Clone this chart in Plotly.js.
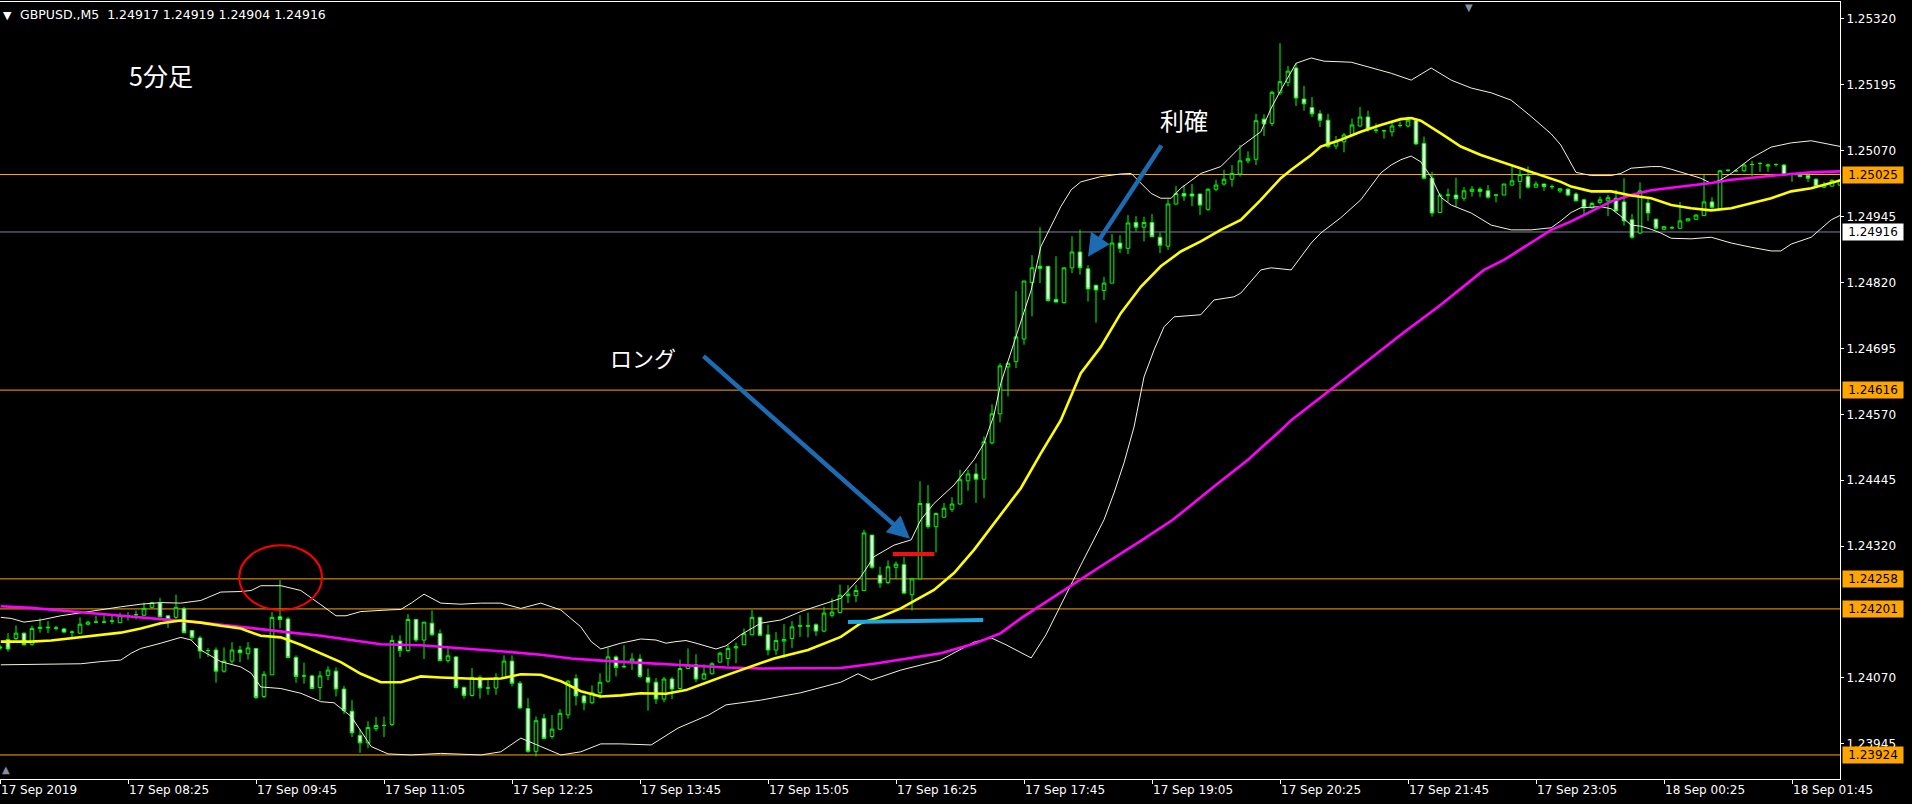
<!DOCTYPE html>
<html>
<head>
<meta charset="utf-8">
<script src="https://cdn.plot.ly/plotly-3.0.1.min.js"></script>
<style>html,body{margin:0;padding:0;background:#000;}#chart{width:1912px;height:804px;}</style>
</head>
<body>
<div id="chart"></div>
<script>
// ---- Candles (GBPUSD M5, bar 0 = 17 Sep 07:05) ----
const candleOpen = [
1.24129,1.24143,1.24145,1.24155,1.24134,1.24164,1.24165,1.24164,1.24163,1.24157,
1.24155,1.24172,1.24176,1.24176,1.24178,1.24175,1.24188,1.24190,1.24189,1.24204,
1.24212,1.24188,1.24185,1.24202,1.24160,1.24146,1.24122,1.24123,1.24083,1.24102,
1.24123,1.24116,1.24126,1.24035,1.24076,1.24186,1.24182,1.24109,1.24074,1.24074,
1.24052,1.24075,1.24083,1.24049,1.24007,1.23961,1.23947,1.23974,1.23980,1.23982,
1.24140,1.24122,1.24181,1.24142,1.24174,1.24154,1.24103,1.24110,1.24052,1.24037,
1.24071,1.24051,1.24051,1.24071,1.24102,1.24060,1.24012,1.23931,1.23993,1.23959,
1.23973,1.24000,1.24069,1.24036,1.24023,1.24042,1.24064,1.24110,1.24091,1.24102,
1.24106,1.24071,1.24062,1.24030,1.24068,1.24050,1.24088,1.24095,1.24068,1.24078,
1.24100,1.24107,1.24127,1.24133,1.24152,1.24185,1.24152,1.24123,1.24140,1.24145,
1.24168,1.24168,1.24171,1.24159,1.24189,1.24194,1.24226,1.24226,1.24236,1.24341,
1.24265,1.24251,1.24280,1.24285,1.24228,1.24258,1.24401,1.24357,1.24375,1.24390,
1.24400,1.24444,1.24457,1.24447,1.24516,1.24571,1.24660,1.24670,1.24713,1.24820,
1.24851,1.24851,1.24788,1.24782,1.24848,1.24878,1.24846,1.24815,1.24805,1.24819,
1.24895,1.24885,1.24934,1.24925,1.24934,1.24906,1.24889,1.24969,1.24989,1.24988,
1.24988,1.24959,1.24997,1.25007,1.25016,1.25026,1.25051,1.25054,1.25130,1.25122,
1.25180,1.25200,1.25227,1.25168,1.25152,1.25140,1.25128,1.25079,1.25087,1.25101,
1.25117,1.25134,1.25109,1.25108,1.25106,1.25118,1.25117,1.25128,1.25084,1.25018,
1.24953,1.24986,1.24986,1.24980,1.24993,1.24997,1.24994,1.24986,1.24986,1.25005,
1.25012,1.25021,1.25001,1.25007,1.25002,1.24994,1.24997,1.24988,1.24977,1.24962,
1.24972,1.24975,1.24980,1.24973,1.24939,1.24914,1.24971,1.24940,1.24921,1.24924,
1.24923,1.24937,1.24940,1.24947,1.24973,1.24960,1.25033,1.25032,1.25032,1.25044,
1.25046,1.25041,1.25044,1.25043,1.25026,1.25026,1.25023,1.25016,1.25001,1.25003,
1.25005];
const candleHigh = [
1.24133,1.24155,1.24170,1.24156,1.24169,1.24183,1.24178,1.24169,1.24165,1.24160,
1.24185,1.24178,1.24188,1.24189,1.24188,1.24194,1.24195,1.24198,1.24213,1.24214,
1.24222,1.24188,1.24228,1.24205,1.24161,1.24150,1.24127,1.24128,1.24128,1.24138,
1.24131,1.24138,1.24126,1.24083,1.24195,1.24256,1.24186,1.24113,1.24099,1.24076,
1.24083,1.24092,1.24090,1.24055,1.24028,1.23973,1.23988,1.23996,1.23997,1.24151,
1.24151,1.24191,1.24181,1.24176,1.24198,1.24162,1.24128,1.24112,1.24054,1.24089,
1.24075,1.24066,1.24079,1.24113,1.24113,1.24064,1.24032,1.23997,1.24002,1.24000,
1.24011,1.24066,1.24077,1.24038,1.24056,1.24079,1.24128,1.24113,1.24132,1.24117,
1.24115,1.24088,1.24070,1.24072,1.24072,1.24105,1.24126,1.24115,1.24096,1.24100,
1.24120,1.24133,1.24137,1.24164,1.24199,1.24186,1.24171,1.24157,1.24172,1.24178,
1.24189,1.24194,1.24174,1.24205,1.24221,1.24247,1.24246,1.24247,1.24351,1.24341,
1.24281,1.24293,1.24291,1.24300,1.24260,1.24443,1.24436,1.24384,1.24402,1.24413,
1.24465,1.24465,1.24477,1.24528,1.24589,1.24667,1.24667,1.24804,1.24823,1.24872,
1.24925,1.24851,1.24870,1.24848,1.24908,1.24920,1.24853,1.24815,1.24831,1.24912,
1.24910,1.24948,1.24946,1.24945,1.24950,1.24915,1.24978,1.25003,1.25005,1.25007,
1.24988,1.24999,1.25015,1.25034,1.25043,1.25081,1.25069,1.25140,1.25139,1.25184,
1.25274,1.25231,1.25236,1.25193,1.25172,1.25147,1.25140,1.25098,1.25104,1.25131,
1.25153,1.25146,1.25122,1.25110,1.25127,1.25125,1.25135,1.25132,1.25097,1.25030,
1.24989,1.24998,1.25019,1.25001,1.25003,1.25001,1.25005,1.24986,1.25007,1.25040,
1.25034,1.25040,1.25012,1.25007,1.25006,1.24999,1.24999,1.24991,1.24979,1.24973,
1.24983,1.24986,1.24996,1.25018,1.24950,1.25010,1.24981,1.24942,1.24926,1.24927,
1.24973,1.24941,1.24950,1.25024,1.24982,1.25034,1.25034,1.25032,1.25046,1.25051,
1.25048,1.25046,1.25046,1.25045,1.25028,1.25026,1.25024,1.25018,1.25011,1.25016,
1.25016];
const candleLow = [
1.24123,1.24120,1.24142,1.24132,1.24131,1.24156,1.24155,1.24160,1.24156,1.24146,
1.24154,1.24170,1.24174,1.24174,1.24172,1.24174,1.24179,1.24181,1.24188,1.24203,
1.24185,1.24165,1.24182,1.24155,1.24142,1.24107,1.24110,1.24061,1.24080,1.24097,
1.24100,1.24105,1.24030,1.24032,1.24076,1.24164,1.24108,1.24061,1.24059,1.24050,
1.24028,1.24066,1.24035,1.24002,1.23958,1.23928,1.23937,1.23969,1.23958,1.23979,
1.24110,1.24119,1.24138,1.24106,1.24150,1.24102,1.24099,1.24050,1.24031,1.24035,
1.24031,1.24038,1.24038,1.24070,1.24054,1.24012,1.23928,1.23921,1.23954,1.23955,
1.23971,1.23993,1.24018,1.24009,1.24021,1.24031,1.24061,1.24073,1.24089,1.24085,
1.24070,1.24008,1.24021,1.24024,1.24030,1.24048,1.24088,1.24062,1.24067,1.24077,
1.24099,1.24092,1.24098,1.24132,1.24151,1.24150,1.24113,1.24114,1.24108,1.24127,
1.24148,1.24147,1.24150,1.24157,1.24185,1.24193,1.24212,1.24214,1.24235,1.24277,
1.24241,1.24248,1.24258,1.24229,1.24198,1.24257,1.24353,1.24308,1.24374,1.24385,
1.24399,1.24425,1.24402,1.24411,1.24513,1.24555,1.24604,1.24658,1.24702,1.24756,
1.24819,1.24784,1.24783,1.24780,1.24838,1.24835,1.24784,1.24744,1.24787,1.24819,
1.24876,1.24874,1.24917,1.24898,1.24907,1.24876,1.24882,1.24968,1.24975,1.24965,
1.24948,1.24956,1.24993,1.25004,1.25002,1.25021,1.25046,1.25043,1.25098,1.25117,
1.25176,1.25192,1.25155,1.25146,1.25134,1.25115,1.25075,1.25073,1.25067,1.25100,
1.25116,1.25106,1.25104,1.25093,1.25097,1.25114,1.25114,1.25081,1.25016,1.24945,
1.24952,1.24973,1.24964,1.24975,1.24983,1.24982,1.24979,1.24972,1.24986,1.25004,
1.24979,1.24998,1.25001,1.24994,1.24997,1.24990,1.24984,1.24974,1.24950,1.24960,
1.24968,1.24946,1.24955,1.24928,1.24903,1.24912,1.24937,1.24921,1.24921,1.24922,
1.24923,1.24937,1.24940,1.24947,1.24960,1.24959,1.25030,1.25030,1.25030,1.25022,
1.25030,1.25030,1.25040,1.25022,1.25011,1.25021,1.25011,1.25001,1.24999,1.25002,
1.25003];
const candleClose = [
1.24127,1.24125,1.24155,1.24133,1.24164,1.24166,1.24166,1.24165,1.24157,1.24157,
1.24172,1.24176,1.24176,1.24176,1.24178,1.24188,1.24188,1.24190,1.24202,1.24213,
1.24186,1.24181,1.24204,1.24156,1.24147,1.24121,1.24122,1.24083,1.24102,1.24123,
1.24118,1.24127,1.24033,1.24077,1.24185,1.24181,1.24109,1.24073,1.24074,1.24050,
1.24074,1.24085,1.24049,1.24008,1.23966,1.23947,1.23976,1.23980,1.23980,1.24141,
1.24122,1.24181,1.24142,1.24176,1.24152,1.24103,1.24112,1.24052,1.24037,1.24071,
1.24051,1.24051,1.24071,1.24102,1.24060,1.24013,1.23931,1.23989,1.23955,1.23973,
1.24003,1.24064,1.24036,1.24023,1.24042,1.24062,1.24110,1.24090,1.24092,1.24106,
1.24073,1.24062,1.24030,1.24068,1.24049,1.24088,1.24095,1.24068,1.24078,1.24097,
1.24117,1.24126,1.24129,1.24154,1.24185,1.24151,1.24123,1.24141,1.24143,1.24167,
1.24169,1.24169,1.24159,1.24193,1.24195,1.24227,1.24229,1.24236,1.24345,1.24280,
1.24250,1.24281,1.24286,1.24231,1.24258,1.24401,1.24357,1.24382,1.24392,1.24400,
1.24446,1.24457,1.24447,1.24518,1.24571,1.24662,1.24667,1.24717,1.24823,1.24848,
1.24847,1.24786,1.24783,1.24848,1.24878,1.24848,1.24808,1.24806,1.24819,1.24895,
1.24885,1.24933,1.24925,1.24934,1.24907,1.24891,1.24969,1.24989,1.24984,1.24984,
1.24967,1.24997,1.25005,1.25016,1.25027,1.25051,1.25055,1.25127,1.25121,1.25181,
1.25201,1.25221,1.25170,1.25159,1.25140,1.25128,1.25078,1.25088,1.25100,1.25119,
1.25134,1.25111,1.25109,1.25108,1.25117,1.25118,1.25128,1.25083,1.25018,1.24952,
1.24986,1.24986,1.24979,1.24994,1.24997,1.24993,1.24982,1.24986,1.25007,1.25013,
1.25025,1.25001,1.25007,1.25002,1.25002,1.24998,1.24986,1.24975,1.24962,1.24970,
1.24977,1.24981,1.24956,1.24937,1.24906,1.24994,1.24952,1.24923,1.24926,1.24924,
1.24937,1.24941,1.24948,1.24973,1.24963,1.25032,1.25033,1.25032,1.25043,1.25044,
1.25046,1.25043,1.25044,1.25024,1.25026,1.25021,1.25018,1.25002,1.25005,1.25014,
1.25015];

// ---- Indicator lines (bar position, price) ----
const maFastBar = [0.1,3.9,6.4,10.1,12.6,15.1,17.6,20.1,22.6,25.1,27.6,30.1,32.6,35.1,37.6,40.1,42.6,45.1,47.6,50.1,
52.6,55.1,57.6,60.1,62.6,65.1,67.6,70.1,72.6,75.1,77.6,80.1,83.25,85.75,88.25,90.75,96.75,101,105.1,107.6,
110.1,112.6,116.75,119.25,121.75,124.25,127.6,130.1,132.6,135.1,137.6,140.1,142.6,145.1,147.6,150.1,152.6,155.1,157.6,160.1,
161.4,163.9,165.1,167.6,170.1,172.6,175.1,176.4,177.6,180.1,182.6,185.1,187.6,190.1,192.6,195.1,196.4,198.9,201.4,203.9,
206.4,208.9,211.4,213.9,216.4,218.9,221.4,223.9,226.4,230.1];
const maFastPrice = [1.24139,1.24139,1.24141,1.24147,1.24152,1.24156,1.24164,1.24174,1.24179,1.24175,
1.24169,1.24164,1.24150,1.24147,1.24133,1.24117,1.24100,1.24078,1.24062,1.24062,
1.24073,1.24071,1.24069,1.24068,1.24069,1.24077,1.24076,1.24064,1.24045,1.24035,
1.24037,1.24041,1.24040,1.24047,1.24061,1.24075,1.24107,1.24123,1.24148,1.24174,
1.24186,1.24202,1.24237,1.24269,1.24313,1.24363,1.24430,1.24496,1.24559,1.24648,
1.24698,1.24762,1.24812,1.24851,1.24879,1.24898,1.24920,1.24939,1.24977,1.25018,
1.25034,1.25062,1.25078,1.25091,1.25106,1.25119,1.25130,1.25132,1.25127,1.25103,
1.25078,1.25062,1.25049,1.25037,1.25024,1.25011,1.25002,1.24993,1.24993,1.24985,
1.24980,1.24967,1.24961,1.24957,1.24961,1.24971,1.24980,1.24993,1.24999,1.25014];

const maSlowBar = [0.1,3.9,7.6,11.4,15.1,18.9,25.1,28.9,32.6,36.4,40.1,43.9,47.6,52.6,56.4,60.1,63.9,67.6,71.4,75.1,
80.1,85.75,90.75,95.1,100.1,105.1,109.25,113.4,117.6,121.75,125.1,127.6,132.6,137.6,142.6,146.6,151.75,156,160.1,161.4,
167.6,175.1,180.1,185.5,188,193.9,196.4,198.9,201.4,203.9,206.4,208.9,211.4,213.9,216.4,218.9,221.4,223.9,226.4,230.1];
const maSlowPrice = [1.24206,1.24203,1.24198,1.24193,1.24188,1.24184,1.24175,1.24169,1.24162,1.24156,
1.24150,1.24142,1.24134,1.24132,1.24128,1.24123,1.24119,1.24114,1.24107,1.24103,
1.24099,1.24095,1.24090,1.24088,1.24088,1.24089,1.24097,1.24107,1.24117,1.24135,
1.24155,1.24183,1.24233,1.24282,1.24330,1.24370,1.24433,1.24484,1.24540,1.24559,
1.24632,1.24721,1.24778,1.24844,1.24863,1.24920,1.24936,1.24955,1.24974,1.24986,
1.24995,1.25000,1.25004,1.25009,1.25015,1.25019,1.25023,1.25026,1.25029,1.25031];

const bbUpperBar = [0.1,1.4,3,5.1,7.6,10.1,12.6,15.1,17.6,20.1,22.6,25.1,27.6,30.1,31.4,32.6,35.1,37.6,40.1,42,
43.25,45.1,48.5,50.1,51.4,53,55.1,57.6,60.1,62.6,65.1,67.6,70.1,72.6,73.9,75.1,77.6,80.1,82,83.25,
84.5,85.75,87,88.25,89.5,90.75,92.6,95.1,97.6,100.1,102.6,105.1,107.6,109.25,111.75,113.9,115.1,116.75,119.25,121.75,
123,124.25,125.1,127.6,128.9,130.1,131.4,132.6,133.9,135.1,137.6,140.1,141.4,142.6,143.9,145.1,146.4,147.6,150.1,152.6,
155.1,157.6,158.9,160.1,162,163.9,165.5,168.9,171.4,173.9,176.4,178.9,181.4,183.9,186.4,188.9,191.4,193.9,195.1,196.4,
197,198.9,201.4,202.6,203.9,206.4,207.6,208.9,211.4,212.6,213.9,215.1,216.4,218.9,221.4,223.9,226.4,228.9,230.1];
const bbUpperPrice = [1.24185,1.24183,1.24176,1.24180,1.24188,1.24194,1.24200,1.24205,1.24210,1.24213,
1.24212,1.24217,1.24233,1.24234,1.24236,1.24245,1.24245,1.24236,1.24209,1.24188,
1.24188,1.24196,1.24199,1.24200,1.24212,1.24229,1.24212,1.24210,1.24212,1.24212,
1.24202,1.24212,1.24199,1.24167,1.24139,1.24125,1.24136,1.24144,1.24142,1.24136,
1.24139,1.24141,1.24136,1.24130,1.24125,1.24131,1.24152,1.24174,1.24180,1.24196,
1.24209,1.24221,1.24262,1.24300,1.24322,1.24332,1.24370,1.24401,1.24436,1.24484,
1.24515,1.24569,1.24629,1.24743,1.24806,1.24888,1.24926,1.24964,1.24996,1.25011,
1.25021,1.25026,1.25027,1.25008,1.24989,1.24980,1.24980,1.24999,1.25027,1.25040,
1.25078,1.25106,1.25151,1.25185,1.25236,1.25246,1.25240,1.25238,1.25227,1.25217,
1.25204,1.25227,1.25204,1.25189,1.25180,1.25166,1.25135,1.25102,1.25081,1.25046,
1.25029,1.25023,1.25023,1.25027,1.25037,1.25040,1.25040,1.25035,1.25024,1.25018,
1.25008,1.25015,1.25027,1.25056,1.25077,1.25085,1.25089,1.25081,1.25078];

const bbLowerBar = [0.1,5.1,10.1,12.6,15.1,16.4,17.6,20.1,22.6,23.9,25.1,27.6,30.1,31.4,32.6,35.1,37.6,40.1,41.75,43.9,
46.4,48.5,51.4,55.1,60.1,62.6,65.1,67.6,70.1,72.6,75.1,77.6,81.4,84.75,88.6,90.75,95.1,100.1,105.1,107.25,
108.9,112.6,114.75,117.6,121.75,123.9,125.75,128.9,130.75,132.6,135.1,138,139.25,140.5,141.75,143,144.25,145.5,146.75,150.1,
151.75,154.25,155.1,157.6,158.9,161.4,163.9,165.1,167.6,170.1,172.6,173.9,175.1,176.4,177.6,178.9,180.1,181.4,183.9,186.4,
188.9,191.4,193.9,195.1,196.4,197.6,200.1,201.4,202.6,203.9,205.1,206.4,207.6,208.9,211.4,213.9,216.4,218.9,221.4,222.6,
223.9,226.4,228.9,230.1];
const bbLowerPrice = [1.24095,1.24096,1.24097,1.24101,1.24104,1.24117,1.24126,1.24136,1.24147,1.24142,
1.24123,1.24101,1.24091,1.24079,1.24053,1.24050,1.24041,1.24025,1.24023,1.23997,
1.23940,1.23926,1.23924,1.23927,1.23924,1.23930,1.23956,1.23940,1.23924,1.23930,
1.23945,1.23945,1.23943,1.23975,1.24000,1.24019,1.24028,1.24042,1.24062,1.24078,
1.24066,1.24085,1.24093,1.24104,1.24138,1.24146,1.24133,1.24108,1.24152,1.24209,
1.24284,1.24370,1.24421,1.24478,1.24546,1.24641,1.24692,1.24736,1.24755,1.24759,
1.24787,1.24793,1.24800,1.24844,1.24848,1.24844,1.24895,1.24914,1.24943,1.24977,
1.25028,1.25043,1.25053,1.25060,1.25049,1.25020,1.24982,1.24967,1.24952,1.24929,
1.24920,1.24920,1.24924,1.24937,1.24953,1.24962,1.24964,1.24960,1.24946,1.24929,
1.24927,1.24921,1.24914,1.24904,1.24903,1.24906,1.24895,1.24887,1.24880,1.24880,
1.24893,1.24906,1.24939,1.24948];

// ---- Horizontal levels, ticks, texts ----
const orangeLevels = [1.25025, 1.24616, 1.24258, 1.24201, 1.23924];
const bidLevel = 1.24916;
const headerQuote = [1.24917, 1.24919, 1.24904, 1.24916];
const yTickValues = [1.25320, 1.25195, 1.25070, 1.24945, 1.24820, 1.24695, 1.24570, 1.24445, 1.24320, 1.24070, 1.23945];
const xTickBars = [0,16,32,48,64,80,96,112,128,144,160,176,192,208,224];
const xTickLabels = ['17 Sep 2019','17 Sep 08:25','17 Sep 09:45','17 Sep 11:05','17 Sep 12:25','17 Sep 13:45',
  '17 Sep 15:05','17 Sep 16:25','17 Sep 17:45','17 Sep 19:05','17 Sep 20:25','17 Sep 21:45','17 Sep 23:05',
  '18 Sep 00:25','18 Sep 01:45'];
const entryLevel = 1.24305;     // red mark
const stopLevels = [1.24176, 1.24180]; // cyan mark (left, right)

const barIndex = candleOpen.map((_, i) => i);
const AX_FONT = 'DejaVu Sans, Verdana, sans-serif';
const JP_FONT = 'Noto Sans CJK JP, sans-serif';

const traces = [
  {
    type: 'candlestick', x: barIndex,
    open: candleOpen, high: candleHigh, low: candleLow, close: candleClose,
    increasing: {line: {color: '#00ff00', width: 1}, fillcolor: '#000000'},
    decreasing: {line: {color: '#00ff00', width: 1}, fillcolor: '#ffffff'},
    whiskerwidth: 0, hoverinfo: 'skip', showlegend: false
  },
  {type: 'scatter', mode: 'lines', x: bbUpperBar, y: bbUpperPrice, line: {color: '#f4f2dc', width: 1}, hoverinfo: 'skip'},
  {type: 'scatter', mode: 'lines', x: bbLowerBar, y: bbLowerPrice, line: {color: '#f4f2dc', width: 1}, hoverinfo: 'skip'},
  {type: 'scatter', mode: 'lines', x: maSlowBar, y: maSlowPrice, line: {color: '#ff00ff', width: 2.6}, hoverinfo: 'skip'},
  {type: 'scatter', mode: 'lines', x: maFastBar, y: maFastPrice, line: {color: '#ffff00', width: 2.6}, hoverinfo: 'skip'}
];

const shapes = [];
orangeLevels.forEach(v => shapes.push({type: 'line', xref: 'paper', x0: 0, x1: 1, yref: 'y', y0: v, y1: v,
  line: {color: '#ffa500', width: 1}, layer: 'below'}));
shapes.push({type: 'line', xref: 'paper', x0: 0, x1: 1, yref: 'y', y0: bidLevel, y1: bidLevel,
  line: {color: '#778899', width: 1}, layer: 'below'});
shapes.push({type: 'circle', xref: 'x', yref: 'y', x0: 29.9, x1: 40.25, y0: 1.24199, y1: 1.24322,
  line: {color: '#ff0000', width: 2}});
shapes.push({type: 'line', xref: 'x', yref: 'y', x0: 111.6, x1: 116.8, y0: entryLevel, y1: entryLevel,
  line: {color: '#ee1111', width: 4}});
shapes.push({type: 'line', xref: 'x', yref: 'y', x0: 106.0, x1: 122.9, y0: stopLevels[0], y1: stopLevels[1],
  line: {color: '#1ca6e2', width: 4}});

const annotations = [];
// header
annotations.push({xref: 'paper', yref: 'paper', x: 0, xshift: 1, y: 1, yshift: -5, xanchor: 'left', yanchor: 'top',
  text: '▼', showarrow: false, font: {family: AX_FONT, size: 11, color: '#ffffff'}});
annotations.push({xref: 'paper', yref: 'paper', x: 0, xshift: 18, y: 1, yshift: -3, xanchor: 'left', yanchor: 'top',
  text: 'GBPUSD.,M5  ' + headerQuote.map(v => v.toFixed(5)).join(' '), showarrow: false,
  font: {family: AX_FONT, size: 12.5, color: '#ffffff'}});
// chart shift / scale markers
annotations.push({xref: 'paper', yref: 'paper', x: 1469 / 1840, y: 1, yshift: 2, xanchor: 'center', yanchor: 'top',
  text: '▼', showarrow: false, font: {family: AX_FONT, size: 10, color: '#8090a0'}});
annotations.push({xref: 'paper', yref: 'paper', x: 0, y: 0, xshift: 0, yshift: 2, xanchor: 'left', yanchor: 'bottom',
  text: '▲', showarrow: false, font: {family: AX_FONT, size: 10, color: '#8090a0'}});
// Japanese texts
annotations.push({xref: 'x', yref: 'y', x: 20.1, y: 1.25214, text: '5分足', showarrow: false,
  font: {family: JP_FONT, size: 25, color: '#ffffff'}});
annotations.push({xref: 'x', yref: 'y', x: 148.0, y: 1.25130, text: '利確', showarrow: false,
  font: {family: JP_FONT, size: 24, color: '#ffffff'}});
annotations.push({xref: 'x', yref: 'y', x: 80.4, y: 1.24679, text: 'ロング', showarrow: false,
  font: {family: JP_FONT, size: 22, color: '#ffffff'}});
// arrows
annotations.push({xref: 'x', yref: 'y', x: 113.75, y: 1.24334, axref: 'x', ayref: 'y', ax: 87.75, ay: 1.24683,
  text: '', showarrow: true, arrowhead: 2, arrowsize: 1, arrowwidth: 4.5, arrowcolor: '#1d6cb3', standoff: 0});
annotations.push({xref: 'x', yref: 'y', x: 136.0, y: 1.24869, axref: 'x', ayref: 'y', ax: 145.3, ay: 1.25083,
  text: '', showarrow: true, arrowhead: 2, arrowsize: 1, arrowwidth: 4.5, arrowcolor: '#1d6cb3', standoff: 0});
// price boxes
orangeLevels.forEach(v => annotations.push({xref: 'paper', yref: 'y', x: 1, xshift: 2, y: v, xanchor: 'left', yanchor: 'middle',
  text: v.toFixed(5), showarrow: false, bgcolor: '#ffa500', width: 58, height: 14, borderpad: 1, align: 'center',
  font: {family: AX_FONT, size: 12, color: '#000000'}}));
annotations.push({xref: 'paper', yref: 'y', x: 1, xshift: 2, y: bidLevel, xanchor: 'left', yanchor: 'middle',
  text: bidLevel.toFixed(5), showarrow: false, bgcolor: '#ffffff', width: 58, height: 14, borderpad: 1, align: 'center',
  font: {family: AX_FONT, size: 12, color: '#000000'}});

const layout = {
  width: 1912, height: 804,
  paper_bgcolor: '#000000', plot_bgcolor: '#000000',
  margin: {l: 0, r: 72, t: 2, b: 25, pad: 0},
  showlegend: false, hovermode: false, dragmode: false,
  boxgap: 0.35,
  xaxis: {
    type: 'linear', range: [0, 230], rangeslider: {visible: false}, fixedrange: true,
    showgrid: false, zeroline: false, showline: true, mirror: true, linecolor: '#ffffff', linewidth: 1,
    ticks: 'outside', ticklen: 4, tickcolor: '#ffffff', tickwidth: 1,
    tickmode: 'array', tickvals: xTickBars, ticktext: xTickLabels,
    ticklabelposition: 'outside right', ticklabeloverflow: 'allow',
    tickfont: {family: AX_FONT, size: 12, color: '#ffffff'}
  },
  yaxis: {
    side: 'right', range: [1.238784, 1.253522], fixedrange: true,
    showgrid: false, zeroline: false, showline: true, linecolor: '#ffffff', linewidth: 1,
    ticks: 'outside', ticklen: 3, tickcolor: '#ffffff', tickwidth: 1,
    tickmode: 'array', tickvals: yTickValues, tickformat: '.5f',
    tickfont: {family: AX_FONT, size: 12, color: '#ffffff'}
  },
  shapes: shapes,
  annotations: annotations
};

Plotly.newPlot('chart', traces, layout, {displayModeBar: false, staticPlot: true});
</script>
</body>
</html>
